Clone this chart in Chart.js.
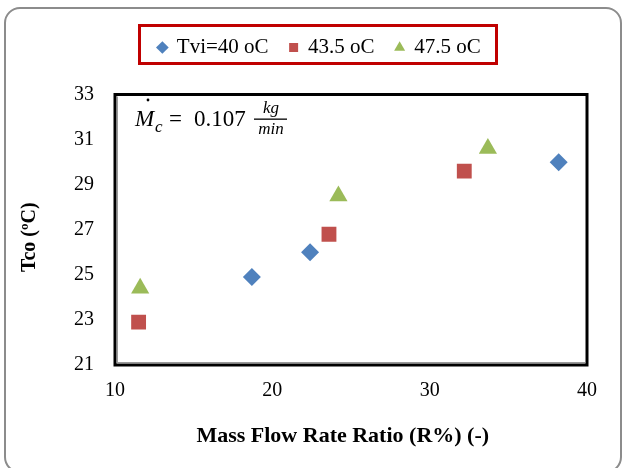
<!DOCTYPE html>
<html>
<head>
<meta charset="utf-8">
<script src="https://cdn.jsdelivr.net/npm/chart.js@4/dist/chart.umd.min.js"></script>
<style>
  html, body { margin: 0; padding: 0; background: #fff; }
  #wrap { position: relative; width: 626px; height: 468px; }
</style>
</head>
<body>
<div id="wrap"><canvas id="c" width="626" height="468"></canvas></div>
<script>
// ---- data ----
const seriesNames = ["Tvi=40 oC", "43.5 oC", "47.5 oC"];
const ratio40 = [18.7, 22.4, 38.2];
const tco40   = [24.9, 26.0, 30.0];
const ratio43 = [11.5, 23.6, 32.2];
const tco43   = [22.9, 26.8, 29.6];
const ratio47 = [11.6, 24.2, 33.7];
const tco47   = [24.4, 28.5, 30.6];
const xTicks = [10, 20, 30, 40];
const yTicks = [21, 23, 25, 27, 29, 31, 33];
const xTitle = "Mass Flow Rate Ratio (R%) (-)";
const yTitle = "Tco (ºC)";

const toPts = (xs, ys) => xs.map((x, i) => ({ x: x, y: ys[i] }));
const FONT = "'Liberation Serif', 'DejaVu Serif', serif";

const framePlugin = {
  id: 'frame',
  afterLayout(chart) {
    const lg = chart.legend;
    lg.left += 17; lg.right += 17;
  },
  beforeDraw(chart) {
    const ctx = chart.ctx;
    ctx.save();
    ctx.strokeStyle = '#8c8c8c';
    ctx.lineWidth = 2;
    const x0 = 5, y0 = 8, x1 = 621, y1 = 472, r = 15;
    ctx.beginPath();
    ctx.moveTo(x0 + r, y0);
    ctx.lineTo(x1 - r, y0);
    ctx.arcTo(x1, y0, x1, y0 + r, r);
    ctx.lineTo(x1, y1 - r);
    ctx.arcTo(x1, y1, x1 - r, y1, r);
    ctx.lineTo(x0 + r, y1);
    ctx.arcTo(x0, y1, x0, y1 - r, r);
    ctx.lineTo(x0, y0 + r);
    ctx.arcTo(x0, y0, x0 + r, y0, r);
    ctx.closePath();
    ctx.stroke();
    ctx.restore();
  },
  afterDraw(chart) {
    const ctx = chart.ctx;
    const a = chart.chartArea;
    ctx.save();
    // plot frame
    ctx.strokeStyle = '#000';
    ctx.lineWidth = 3;
    ctx.strokeRect(a.left, a.top, a.right - a.left, a.bottom - a.top);
    ctx.strokeStyle = '#9a9a9a';
    ctx.lineWidth = 1;
    ctx.beginPath();
    ctx.moveTo(a.left + 2.5, a.top + 2);
    ctx.lineTo(a.left + 2.5, a.bottom - 2);
    ctx.moveTo(a.left + 2, a.bottom - 2.5);
    ctx.lineTo(a.right - 2, a.bottom - 2.5);
    ctx.stroke();
    // legend box
    ctx.strokeStyle = '#C00000';
    ctx.lineWidth = 3;
    ctx.strokeRect(139.5, 25.5, 357, 38);
    // annotation
    ctx.fillStyle = '#000';
    ctx.textBaseline = 'alphabetic';
    ctx.font = "italic 23px " + FONT;
    ctx.fillText('M', 135, 126);
    ctx.beginPath();
    ctx.arc(148, 100, 1.4, 0, Math.PI * 2);
    ctx.fill();
    ctx.font = "italic 17px " + FONT;
    ctx.fillText('c', 155, 132);
    ctx.font = "23px " + FONT;
    ctx.fillText('=', 169, 126);
    ctx.fillText('0.107', 194, 126);
    ctx.font = "italic 17px " + FONT;
    ctx.textAlign = 'center';
    ctx.fillText('kg', 271, 113);
    ctx.fillText('min', 271, 134);
    ctx.fillRect(254, 118.5, 33, 1.3);
    ctx.restore();
  }
};

new Chart(document.getElementById('c'), {
  type: 'scatter',
  data: {
    datasets: [
      { label: seriesNames[0], data: toPts(ratio40, tco40), pointStyle: 'rectRot',
        backgroundColor: '#4F81BD', borderColor: '#4F81BD', pointRadius: 9, borderWidth: 0 },
      { label: seriesNames[1], data: toPts(ratio43, tco43), pointStyle: 'rect',
        backgroundColor: '#C0504D', borderColor: '#C0504D', pointRadius: 10.5, borderWidth: 0 },
      { label: seriesNames[2], data: toPts(ratio47, tco47), pointStyle: 'triangle',
        backgroundColor: '#9BBB59', borderColor: '#9BBB59', pointRadius: 10.5, borderWidth: 0 }
    ]
  },
  options: {
    responsive: false,
    animation: false,
    layout: { padding: { left: 18, right: 39, top: 16, bottom: 18 } },
    plugins: {
      tooltip: { enabled: false },
      title: { display: true, text: ' ', weight: 0, position: 'top',
               font: { size: 10 }, padding: { top: 14.5, bottom: 0 }, color: 'rgba(0,0,0,0)' },
      legend: {
        display: true,
        position: 'top',
        labels: {
          usePointStyle: true,
          boxHeight: 9,
          boxWidth: 8,
          padding: 21,
          color: '#000',
          font: { family: FONT, size: 21 }
        }
      }
    },
    scales: {
      x: {
        type: 'linear',
        min: 10, max: 40,
        afterBuildTicks(s) { s.ticks = xTicks.map(v => ({ value: v })); },
        grid: { display: false, drawTicks: false },
        border: { display: false },
        ticks: { color: '#000', font: { family: FONT, size: 20 }, padding: 14, maxRotation: 0 },
        title: { display: true, text: xTitle + '   ', color: '#000',
                 font: { family: FONT, size: 22, weight: 'bold' }, padding: { top: 0, bottom: 0 } },
        afterFit(s) { s.height = 85; }
      },
      y: {
        type: 'linear',
        min: 21, max: 33,
        afterBuildTicks(s) { s.ticks = yTicks.map(v => ({ value: v })); },
        grid: { display: false, drawTicks: false },
        border: { display: false },
        ticks: { color: '#000', font: { family: FONT, size: 20 }, padding: 21 },
        title: { display: true, text: yTitle + '   ', color: '#000',
                 font: { family: FONT, size: 20, weight: 'bold' }, padding: { top: 0, bottom: 0 } },
        afterFit(s) { s.width = 97; }
      }
    }
  },
  plugins: [framePlugin]
});
</script>
</body>
</html>
